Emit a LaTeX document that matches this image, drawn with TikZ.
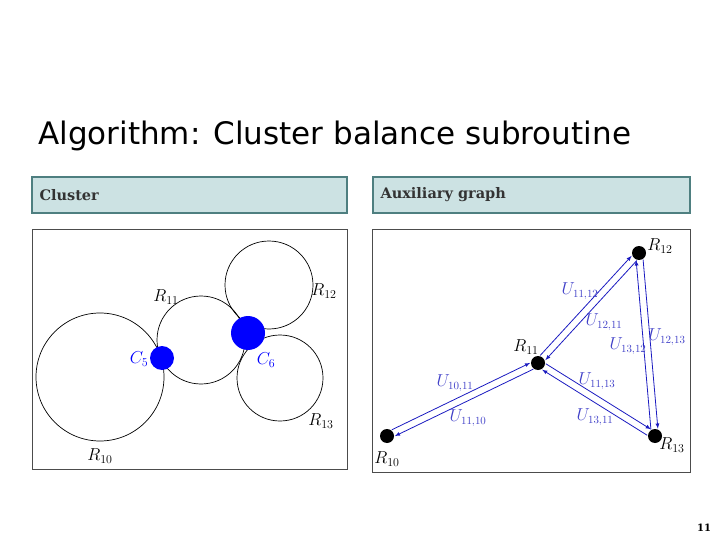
\documentclass[tikz,border=0pt]{standalone}
\usepackage{fontspec}
\newfontfamily\titlefont{DejaVu Sans}
\newfontfamily\hdrfont{DejaVu Serif}
\usetikzlibrary{calc}
\definecolor{hdrfill}{HTML}{CCE2E3}
\definecolor{hdrline}{HTML}{4E7F80}
\definecolor{ublue}{HTML}{1A1AC0}
\definecolor{lblue}{HTML}{4040C8}
\begin{document}
\begin{tikzpicture}[x=1pt,y=-1pt,
  hdr/.style={draw=hdrline,line width=1.5pt,fill=hdrfill},
  frame/.style={draw=black!70,line width=1pt},
  ring/.style={draw=black,line width=0.7pt},
  dot/.style={circle,fill=black,inner sep=0pt,minimum width=14pt,minimum height=14pt},
  lab/.style={font=\fontsize{17}{17}\selectfont},
  ulab/.style={font=\fontsize{16}{16}\selectfont,text=lblue},
  arr/.style={-latex,draw=ublue,line width=0.8pt,shorten >=7pt,shorten <=7pt}]
\useasboundingbox (0,0) rectangle (720,540);
\node[anchor=base west,font=\titlefont\fontsize{31}{31}\selectfont,inner sep=0pt] (title) at (38,145) {Algorithm: Cluster balance subroutine};
\draw[hdr] (32,177) rectangle (347,213);
\node[anchor=west,font=\hdrfont\bfseries\fontsize{14.5}{14.5}\selectfont,text=black!80] (h1) at (36,195) {Cluster};
\draw[hdr] (373,177) rectangle (690,213);
\node[anchor=west,font=\hdrfont\bfseries\fontsize{14.5}{14.5}\selectfont,text=black!80] (h2) at (377,195) {Auxiliary graph};
% left panel
\draw[frame] (32,230) rectangle (347,469);
\draw[ring] (100,377) circle (64);
\draw[ring] (201,340) circle (44);
\draw[ring] (269,285) circle (44);
\draw[ring] (280,378) circle (43);
\fill[blue] (162,358) circle (12);
\fill[blue] (248,333) circle (17);
\node[lab] (l11) at (166,297) {$R_{11}$};
\node[lab] (l12) at (324,291) {$R_{12}$};
\node[lab] (l13) at (321,421) {$R_{13}$};
\node[lab] (l10) at (100,456) {$R_{10}$};
\node[lab,text=blue] (c5) at (139,359) {$C_5$};
\node[lab,text=blue] (c6) at (266,360) {$C_6$};
% right panel
\draw[frame] (372,230) rectangle (690,472);
\node[dot] (r12) at (639,253) {};
\node[dot] (r11) at (538,363) {};
\node[dot] (r10) at (387,436) {};
\node[dot] (r13) at (655,436) {};
\node[lab] at (660,246) {$R_{12}$};
\node[lab] at (526,347) {$R_{11}$};
\node[lab] at (387,459) {$R_{10}$};
\node[lab] at (672,445) {$R_{13}$};
\foreach \a/\b in {r11/r12,r12/r11,r10/r11,r11/r10,r11/r13,r13/r11,r12/r13,r13/r12}{
  \draw[arr] ($(\a)!3.5pt!90:(\b)$) -- ($(\b)!3.5pt!-90:(\a)$);
}
\node[ulab] at (580,291) {$U_{11,12}$};
\node[ulab] at (604,322) {$U_{12,11}$};
\node[ulab] at (667,337) {$U_{12,13}$};
\node[ulab] at (628,346) {$U_{13,12}$};
\node[ulab] at (455,383) {$U_{10,11}$};
\node[ulab] at (468,418) {$U_{11,10}$};
\node[ulab] at (597,381) {$U_{11,13}$};
\node[ulab] at (595,417) {$U_{13,11}$};
\node[font=\hdrfont\bfseries\fontsize{10}{10}\selectfont] (pg) at (704,528) {11};
\end{tikzpicture}
\end{document}
